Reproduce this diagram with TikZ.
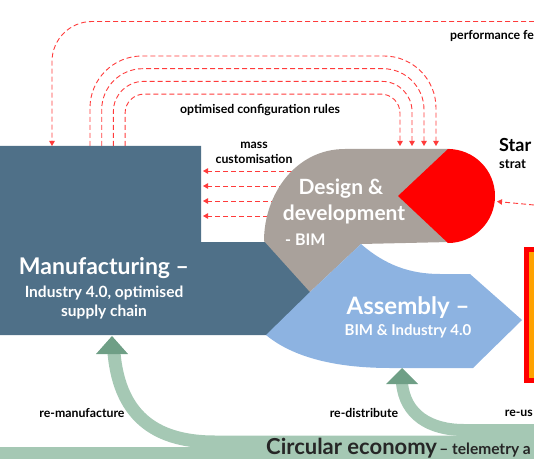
\documentclass[tikz,border=0pt]{standalone}
\usepackage{fontspec}
\setmainfont{Lato}
\usetikzlibrary{arrows.meta}

\definecolor{mfgblue}{HTML}{4F7088}
\definecolor{bimgrey}{HTML}{A9A19B}
\definecolor{asmblue}{HTML}{8DB3E1}
\definecolor{ceband}{HTML}{A5C8B4}
\definecolor{cehead}{HTML}{6F9F86}
\definecolor{fbred}{HTML}{FF3B3B}
\definecolor{boxorange}{HTML}{FFA200}

\tikzset{
	feedback/.style={draw=fbred, dash pattern=on 5pt off 3pt, line width=0.9pt, -{Triangle[width=5.5pt,length=5pt]}},
	bigwhite/.style={text=white, inner sep=0pt, font=\bfseries\fontsize{23}{26}\selectfont},
	subwhite/.style={text=white, inner sep=0pt, font=\bfseries\fontsize{15.5}{18}\selectfont},
	tagtext/.style={inner sep=0pt, font=\bfseries\fontsize{12.3}{14.5}\selectfont},
}

\begin{document}
\begin{tikzpicture}[x=1pt, y=-1pt]
		\useasboundingbox (0,0) rectangle (534,462);
		\clip (0,0) rectangle (534,462);

		% feedback loops
		\draw[feedback, rounded corners=40pt] (534,21.5) -- (52,21.5) -- (52,146);
		\foreach \i/\rad in {0/52, 1/41, 2/30, 3/19}{
			\draw[feedback, rounded corners=\rad pt] (90+11.7*\i,146) -- (90+11.7*\i,56+12.7*\i) -- (436-12*\i,56+12.7*\i) -- (436-12*\i,146);
		}
		\foreach \y in {171, 186, 201, 216}
			\draw[feedback] (300,\y) -- (203,\y);
		\draw[feedback] (534,205) -- (497,201.5);

		% blocks
		\fill[mfgblue] (0,146) -- (201,146) -- (201,242) -- (300,242) -- (310,292) -- (300,335) -- (0,335) -- cycle;
		\fill[bimgrey] (450,149) -- (345,149) .. controls (295,149) and (264,195) .. (264,241) -- (310,292) -- (361,244) -- (450,242) -- cycle;
		\fill[red] (398,196) -- (448,149) arc[start angle=90, end angle=-90, radius=47pt] -- cycle;
		\fill[asmblue] (310,292) -- (361,244) .. controls (385,265) and (410,274) .. (440,274) -- (470,274) -- (522,320) -- (473,368) -- (390,368) .. controls (330,368) and (290,355) .. (266,335) -- cycle;
		\draw[red, line width=5pt, fill=boxorange] (526.5,249.5) rectangle (550,380.5);

		% circular economy
		\fill[ceband] (0,447) rectangle (534,459);
		\draw[ceband, line width=13pt] (534,442) -- (215,442) .. controls (160,442) and (120,420) .. (114,353);
		\fill[cehead] (112,336) -- (128,354) -- (96,354) -- cycle;
		\draw[ceband, line width=12pt] (534,430) -- (464,430) .. controls (430,430) and (405,415) .. (402,383);
		\fill[cehead] (402,368) -- (418,384) -- (386,384) -- cycle;

		% texts
		\node[bigwhite] (mfgtitle) at (104,268) {Manufacturing --};
		\node[subwhite] (mfgsub1) at (104,293) {Industry 4.0, optimised};
		\node[subwhite] (mfgsub2) at (104,312) {supply chain};
		\node[bigwhite, font=\bfseries\fontsize{21}{24}\selectfont] (dsgtitle1) at (341,189) {Design \&};
		\node[bigwhite, font=\bfseries\fontsize{21}{24}\selectfont] (dsgtitle2) at (344,214) {development};
		\node[subwhite, font=\bfseries\fontsize{16}{18}\selectfont, anchor=west] (dsgbim) at (285,240) {- BIM};
		\node[bigwhite, font=\bfseries\fontsize{24}{26}\selectfont] (asmtitle) at (408,308) {Assembly --};
		\node[subwhite, font=\bfseries\fontsize{15}{18}\selectfont] (asmsub) at (408,331) {BIM \& Industry 4.0};

		\node[tagtext] (rules) at (260,110) {optimised configuration rules};
		\node[tagtext, align=center] (mass) at (254,153) {mass\\customisation};
		\node[tagtext, anchor=west] (perf) at (450,36) {performance fe};
		\node[tagtext, font=\bfseries\fontsize{18}{20}\selectfont, anchor=west] (star) at (499,145) {Star};
		\node[tagtext, font=\bfseries\fontsize{13}{14}\selectfont, anchor=west] (strat) at (499,164) {strat};
		\node[tagtext] (remfg) at (82,413) {re-manufacture};
		\node[tagtext] (redist) at (364,413) {re-distribute};
		\node[tagtext, anchor=east] (reuse) at (533,413) {re-us};
		\node[inner sep=0pt, anchor=base west, font=\bfseries, text=black!85] (circ) at (266,454) {{\fontsize{22}{24}\selectfont Circular economy} {\fontsize{15.5}{18}\selectfont -- telemetry a}};
	\end{tikzpicture}
\end{document}
